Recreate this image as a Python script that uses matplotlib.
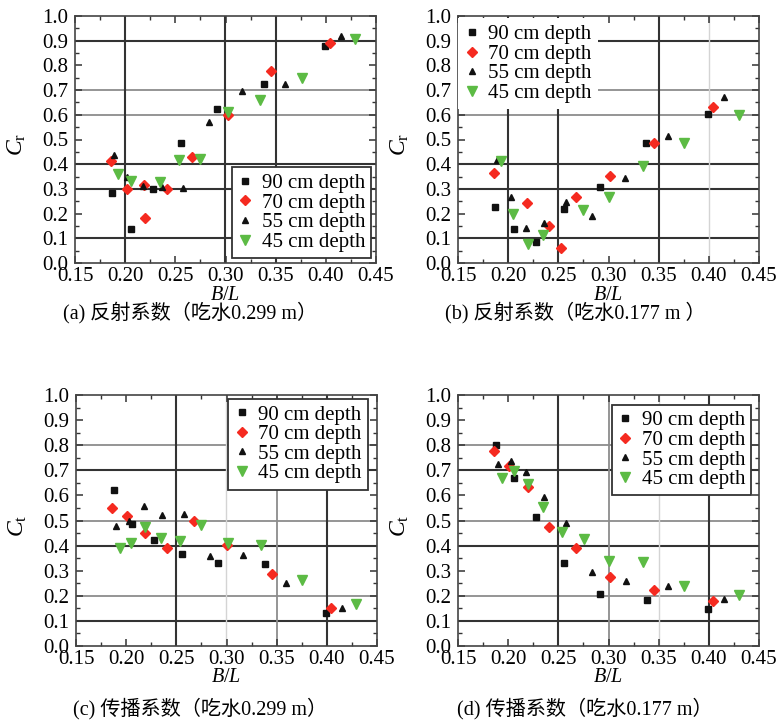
import matplotlib
matplotlib.use('Agg')
import matplotlib.pyplot as plt
from matplotlib.ticker import MultipleLocator, FormatStrFormatter

plt.rcParams['font.family'] = ['Liberation Serif', 'Noto Sans CJK SC']
plt.rcParams['mathtext.fontset'] = 'custom'
plt.rcParams['mathtext.rm'] = 'Liberation Serif'
plt.rcParams['mathtext.it'] = 'Liberation Serif:italic'

labels = ['90 cm depth', '70 cm depth', '55 cm depth', '45 cm depth']
captions = ['(a) 反射系数（吃水0.299 m）', '(b) 反射系数（吃水0.177 m ）',
            '(c) 传播系数（吃水0.299 m）', '(d) 传播系数（吃水0.177 m）']
ylabels = [r'$C_{\mathrm{r}}$', r'$C_{\mathrm{r}}$', r'$C_{\mathrm{t}}$', r'$C_{\mathrm{t}}$']

# (a) reflection, draft 0.299 m
a_x90 = [0.187, 0.2055, 0.228, 0.256, 0.292, 0.338, 0.399]
a_y90 = [0.285, 0.138, 0.300, 0.487, 0.623, 0.726, 0.877]
a_x70 = [0.186, 0.2015, 0.219, 0.2195, 0.242, 0.267, 0.302, 0.345, 0.404]
a_y70 = [0.412, 0.301, 0.317, 0.182, 0.300, 0.428, 0.600, 0.777, 0.891]
a_x55 = [0.189, 0.202, 0.218, 0.2364, 0.2573, 0.284, 0.3168, 0.3596, 0.4148]
a_y55 = [0.437, 0.347, 0.312, 0.308, 0.302, 0.570, 0.698, 0.723, 0.920]
a_x45 = [0.1925, 0.2055, 0.2344, 0.2537, 0.275, 0.302, 0.3344, 0.376, 0.4294]
a_y45 = [0.360, 0.332, 0.328, 0.417, 0.420, 0.613, 0.661, 0.749, 0.906]

# (b) reflection, draft 0.177 m
b_x90 = [0.1872, 0.2058, 0.2277, 0.256, 0.2912, 0.3377, 0.3993]
b_y90 = [0.227, 0.136, 0.084, 0.217, 0.309, 0.485, 0.602]
b_x70 = [0.1859, 0.2184, 0.241, 0.2523, 0.2673, 0.3015, 0.3457, 0.4039]
b_y70 = [0.364, 0.243, 0.151, 0.062, 0.268, 0.352, 0.487, 0.633]
b_x55 = [0.1892, 0.2025, 0.2178, 0.2357, 0.2577, 0.2839, 0.3168, 0.3593, 0.4151]
b_y55 = [0.417, 0.268, 0.143, 0.162, 0.246, 0.189, 0.343, 0.513, 0.673]
b_x45 = [0.1932, 0.2051, 0.2194, 0.235, 0.2749, 0.3009, 0.3341, 0.3752, 0.4299]
b_y45 = [0.412, 0.198, 0.076, 0.113, 0.215, 0.268, 0.391, 0.487, 0.599]

# (c) transmission, draft 0.299 m
c_x90 = [0.1876, 0.2058, 0.2277, 0.2553, 0.2915, 0.338, 0.3988]
c_y90 = [0.620, 0.486, 0.424, 0.365, 0.331, 0.325, 0.133]
c_x70 = [0.1862, 0.2008, 0.2191, 0.2407, 0.2676, 0.3008, 0.3457, 0.4041]
c_y70 = [0.550, 0.517, 0.449, 0.389, 0.499, 0.401, 0.286, 0.150]
c_x55 = [0.1895, 0.2028, 0.2181, 0.2361, 0.2576, 0.2836, 0.3168, 0.359, 0.4148]
c_y55 = [0.479, 0.499, 0.559, 0.521, 0.525, 0.359, 0.361, 0.251, 0.151]
c_x45 = [0.1935, 0.2051, 0.2188, 0.2347, 0.2533, 0.2746, 0.3018, 0.3344, 0.3756, 0.4294]
c_y45 = [0.389, 0.412, 0.475, 0.429, 0.420, 0.482, 0.412, 0.401, 0.263, 0.169]

# (d) transmission, draft 0.177 m
d_x90 = [0.1876, 0.2058, 0.2277, 0.2556, 0.2918, 0.338, 0.3992]
d_y90 = [0.801, 0.669, 0.514, 0.331, 0.206, 0.182, 0.149]
d_x70 = [0.1859, 0.2012, 0.2194, 0.241, 0.2676, 0.3015, 0.3457, 0.4045]
d_y70 = [0.777, 0.717, 0.635, 0.474, 0.392, 0.276, 0.222, 0.178]
d_x55 = [0.1899, 0.2032, 0.2178, 0.236, 0.258, 0.2839, 0.3171, 0.3593, 0.4151]
d_y55 = [0.724, 0.737, 0.693, 0.592, 0.490, 0.294, 0.259, 0.240, 0.188]
d_x45 = [0.1935, 0.2058, 0.2194, 0.2347, 0.2533, 0.2759, 0.3008, 0.3347, 0.3752, 0.4297]
d_y45 = [0.668, 0.698, 0.647, 0.554, 0.453, 0.426, 0.339, 0.335, 0.238, 0.204]

data = [
    [(a_x90, a_y90), (a_x70, a_y70), (a_x55, a_y55), (a_x45, a_y45)],
    [(b_x90, b_y90), (b_x70, b_y70), (b_x55, b_y55), (b_x45, b_y45)],
    [(c_x90, c_y90), (c_x70, c_y70), (c_x55, c_y55), (c_x45, c_y45)],
    [(d_x90, d_y90), (d_x70, d_y70), (d_x55, d_y55), (d_x45, d_y45)],
]

# marker styles for the four depths
styles = [
    dict(marker='s', color='#111111', ms=4.5),
    dict(marker='D', color='#f52a20', ms=5),
    dict(marker='^', color='#111111', ms=5),
    dict(marker='v', color='#5cbb44', ms=7.5),
]

# odd scanned gridlines: (value, shade)
D, M, L = ('#333333', 1.5), ('#8c8c8c', 1.3), ('#d4d4d4', 1.0)
hgrid = [
    [(0.1, D), (0.3, D), (0.4, D), (0.6, M), (0.7, M), (0.9, D)],
    [(0.1, D), (0.3, D), (0.4, D), (0.6, M), (0.7, M), (0.9, D)],
    [(0.1, D), (0.2, M), (0.4, D), (0.5, M), (0.7, D), (0.8, M)],
    [(0.1, D), (0.2, M), (0.4, D), (0.5, M), (0.7, D), (0.8, M)],
]
vgrid = [
    [(0.20, D), (0.30, D), (0.35, D)],
    [(0.20, D), (0.25, D), (0.35, D), (0.40, L)],
    [(0.25, D), (0.30, L), (0.35, M), (0.40, D)],
    [(0.25, D), (0.30, M), (0.35, L), (0.40, D)],
]

W, H = 776, 723
boxes = [(75, 16, 301, 247), (458, 16, 301, 247),
         (76, 395, 301, 251), (458, 395, 301, 251)]
legend_opts = [
    dict(loc='lower right', bbox_to_anchor=(0.985, 0.02), edge='#333333'),
    dict(loc='upper left', bbox_to_anchor=(0.0, 0.99), edge='none'),
    dict(loc='upper right', bbox_to_anchor=(0.97, 0.985), edge='#333333'),
    dict(loc='upper right', bbox_to_anchor=(0.975, 0.962), edge='#333333'),
]
caption_pos = [(190, 313), (575, 313), (200, 709), (585, 709)]

fig = plt.figure(figsize=(W / 100, H / 100), dpi=100)

for i in range(4):
    x0, y0, w, h = boxes[i]
    ax = fig.add_axes([x0 / W, 1 - (y0 + h) / H, w / W, h / H])

    for val, (c, lw) in hgrid[i]:
        ax.axhline(val, color=c, lw=lw, zorder=1)
    for val, (c, lw) in vgrid[i]:
        ax.axvline(val, color=c, lw=lw, zorder=1)

    for (xs, ys), st, lab in zip(data[i], styles, labels):
        ax.plot(xs, ys, linestyle='none', marker=st['marker'], ms=st['ms'],
                color=st['color'], mec=st['color'], label=lab, zorder=3)

    ax.set_xlim(0.15, 0.45)
    ax.set_ylim(0.0, 1.0)
    ax.xaxis.set_major_locator(MultipleLocator(0.05))
    ax.xaxis.set_minor_locator(MultipleLocator(0.025))
    ax.yaxis.set_major_locator(MultipleLocator(0.1))
    ax.yaxis.set_minor_locator(MultipleLocator(0.05))
    ax.xaxis.set_major_formatter(FormatStrFormatter('%.2f'))
    ax.yaxis.set_major_formatter(FormatStrFormatter('%.1f'))
    ax.tick_params(which='both', direction='in', top=True, right=True,
                   color='#333333', labelsize=15)
    ax.tick_params(which='major', length=5, width=1.1)
    ax.tick_params(which='minor', length=3, width=1.0)
    ax.tick_params(axis='x', pad=3)
    ax.tick_params(axis='y', pad=5)
    for sp in ax.spines.values():
        sp.set_color('#444444')
        sp.set_linewidth(1.2)

    ax.text(0.5, -32 / h, r'$B/L$', transform=ax.transAxes,
            ha='center', va='center', fontsize=14.5)
    ax.set_ylabel(ylabels[i], fontsize=17)
    ax.yaxis.set_label_coords(-0.155, 0.48)

    lo = legend_opts[i]
    leg = ax.legend(loc=lo['loc'], bbox_to_anchor=lo['bbox_to_anchor'],
                    fontsize=15, handlelength=0.7, handletextpad=0.45,
                    labelspacing=0.0, borderpad=0.3, borderaxespad=0.0,
                    fancybox=False, framealpha=1, edgecolor=lo['edge'])
    leg.get_frame().set_linewidth(1.3)
    leg.set_zorder(5)

    cx, cy = caption_pos[i]
    fig.text(cx / W, 1 - cy / H, captions[i], ha='center', va='center',
             fontsize=14.5)

fig.savefig('out.png', dpi=100)
